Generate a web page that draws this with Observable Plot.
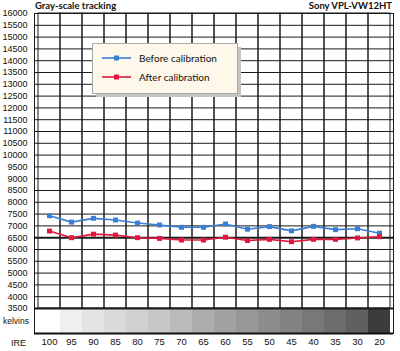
<!DOCTYPE html>
<html>
<head>
<meta charset="utf-8">
<script src="https://cdn.jsdelivr.net/npm/d3@7"></script>
<script src="https://cdn.jsdelivr.net/npm/@observablehq/plot@0.6"></script>
<style>
  html, body { margin: 0; padding: 0; background: #fff; }
  #wrap { position: relative; width: 400px; height: 351px; overflow: hidden; }
  .ttl { position: absolute; top: 0; font-family: Lato, "DejaVu Sans", sans-serif; font-weight: 700; font-size: 9.5px; color: #111; line-height: 11px; }
  #legend { position: absolute; left: 92px; top: 43px; }
  .side { position: absolute; font-family: "Liberation Sans", Arial, sans-serif; font-size: 8.5px; color: #111; }
</style>
</head>
<body>
<div id="wrap">
  <div class="ttl" style="left:35px">Gray-scale tracking</div>
  <div class="ttl" style="right:8px">Sony VPL-VW12HT</div>
  <div class="side" style="left:3px; top:316px">kelvins</div>
  <div class="side" style="left:11px; top:338px; font-size:9px">IRE</div>
</div>
<script>
// IRE steps (25 is not measured)
const ire = ["100","95","90","85","80","75","70","65","60","55","50","45","40","35","30","20"];
// Colour temperature, kelvins
const before = [7430, 7160, 7320, 7250, 7120, 7040, 6940, 6940, 7080, 6860, 6970, 6790, 6980, 6840, 6880, 6690];
const after  = [6780, 6500, 6650, 6610, 6500, 6470, 6400, 6400, 6520, 6380, 6430, 6330, 6430, 6430, 6490, 6540];
// Gray swatch shade for each IRE step
const swatch = ["#ffffff","#efefef","#e4e4e4","#dadada","#d1d1d1","#c8c8c8","#bbbbbb","#adadad","#a2a2a2","#979797","#8d8d8d","#838383","#787878","#6c6c6c","#606060","#3c3c3c"];
const yTicks = d3.range(3500, 16001, 500);
const yMin = 3500, yMax = 16000, stripBottom = 2440, reference = 6500;

const rows = ire.map((k, i) => ({ire: k, before: before[i], after: after[i], shade: swatch[i]}));
const blue = "#3a7fd6", red = "#e3163f";

const chart = Plot.plot({
  width: 400,
  height: 351,
  marginLeft: 34,
  marginRight: 7,
  marginTop: 13,
  marginBottom: 18,
  style: { fontFamily: "'Liberation Sans', Arial, sans-serif", fontSize: "9px", color: "#111", background: "transparent" },
  x: { type: "band", domain: ire, padding: 0, label: null },
  y: { domain: [stripBottom, yMax], label: null },
  marks: [
    Plot.barY(rows, { x: "ire", y1: stripBottom, y2: yMin, fill: "shade", inset: 0 }),
    Plot.barY(rows, { x: "ire", y1: yMin, y2: yMax, fill: "none", stroke: "#1a1a1a", strokeWidth: 1, inset: 0 }),
    Plot.ruleY(yTicks, { stroke: "#1a1a1a", strokeWidth: d => (d === reference || d === yMin) ? 2 : 1 }),
    Plot.frame({ stroke: "#1a1a1a", strokeWidth: 1 }),
    Plot.ruleY([stripBottom], { stroke: "#111", strokeWidth: 2 }),
    Plot.axisY({ ticks: yTicks, tickSize: 0, tickPadding: 7, tickFormat: d => String(d), fontSize: 9 }),
    Plot.axisX({ tickSize: 0, tickPadding: 5, fontSize: 9.5 }),
    Plot.line(rows, { x: "ire", y: "before", stroke: blue, strokeWidth: 1.6 }),
    Plot.dot(rows, { x: "ire", y: "before", symbol: "square", r: 2.8, fill: blue, stroke: "none" }),
    Plot.line(rows, { x: "ire", y: "after", stroke: red, strokeWidth: 1.6 }),
    Plot.dot(rows, { x: "ire", y: "after", symbol: "square", r: 2.8, fill: red, stroke: "none" })
  ]
});
const wrap = document.getElementById("wrap");
chart.style.position = "absolute";
chart.style.left = "0";
chart.style.top = "0";
wrap.prepend(chart);

// Legend
const series = [{name: "Before calibration", color: blue}, {name: "After calibration", color: red}];
const lg = d3.create("svg").attr("id", "legend").attr("width", 152).attr("height", 57);
lg.append("rect").attr("x", 4).attr("y", 4).attr("width", 145).attr("height", 50).attr("fill", "#c4c4c4");
lg.append("rect").attr("x", 0.5).attr("y", 0.5).attr("width", 145).attr("height", 50).attr("fill", "#fdf8e9").attr("stroke", "#aaa");
series.forEach((s, i) => {
  const y = 15 + i * 19;
  lg.append("line").attr("x1", 10).attr("x2", 39).attr("y1", y).attr("y2", y).attr("stroke", s.color).attr("stroke-width", 1.6);
  lg.append("rect").attr("x", 22).attr("y", y - 2.5).attr("width", 5).attr("height", 5).attr("fill", s.color);
  lg.append("text").attr("x", 47).attr("y", y + 3.5).attr("font-family", "Lato, 'DejaVu Sans', sans-serif").attr("font-size", 10).attr("fill", "#111").text(s.name);
});
wrap.appendChild(lg.node());
</script>
</body>
</html>
